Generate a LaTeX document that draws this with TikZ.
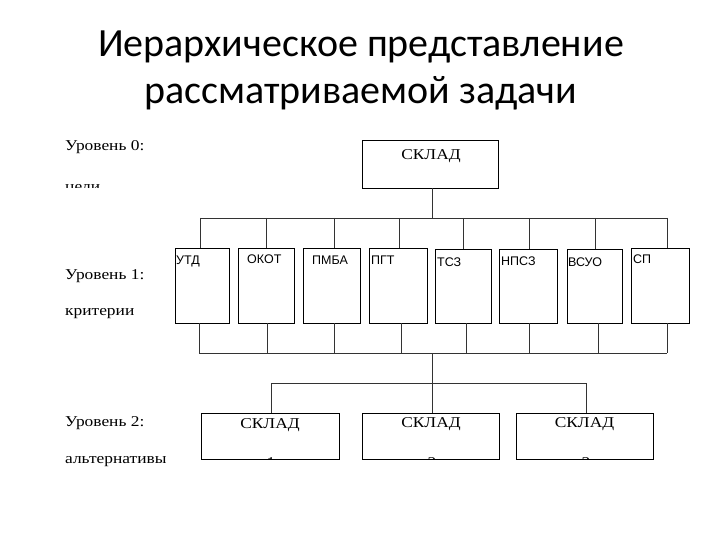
\documentclass[tikz,border=0pt]{standalone}
\usepackage{fontspec}
\setmainfont{Liberation Serif}
\newfontfamily\widserif[FakeStretch=1.16]{Liberation Serif}
\newfontfamily\titlefont{Carlito}
\newfontfamily\sansf{Liberation Sans}
\begin{document}
\begin{tikzpicture}[x=1pt,y=-1pt,
  box/.style={draw=black,line width=0.9pt,inner sep=0pt,fill=none},
  conn/.style={draw=black!80,line width=0.9pt},
  lvl/.style={anchor=base west,inner sep=0pt,font=\widserif\fontsize{15}{15}\selectfont},
  crit/.style={anchor=base west,inner sep=0pt,font=\sansf\fontsize{12.5}{12.5}\selectfont},
  sk/.style={anchor=base,inner sep=0pt,font=\widserif\fontsize{15}{15}\selectfont},
  ttl/.style={anchor=base,inner sep=0pt,font=\titlefont\fontsize{40}{40}\selectfont}]
\useasboundingbox (0,0) rectangle (720,540);
\fill[white] (0,0) rectangle (720,540);
% title
\node[ttl] (t1) at (361,57) {Иерархическое представление};
\node[ttl] (t2) at (361,104) {рассматриваемой задачи};
% level labels
\node[lvl] (l0) at (65,151) {Уровень 0:};
\begin{scope}
\clip (40,170) rectangle (200,188);
\node[lvl] (l0b) at (65,192) {цели};
\end{scope}
\node[lvl] (l1) at (65,279) {Уровень 1:};
\node[lvl] (l1b) at (65,315) {критерии};
\node[lvl] (l2) at (65,426) {Уровень 2:};
\node[lvl] (l2b) at (65,463) {альтернативы};
% top box
\node[box,minimum width=136pt,minimum height=48pt] (top) at (430,164) {};
\node[sk] at (431,160) {СКЛАД};
% criteria boxes
\node[box,minimum width=54pt,minimum height=75pt] (c1) at (202,285.5) {};
\node[box,minimum width=56pt,minimum height=75pt] (c2) at (266,285.5) {};
\node[box,minimum width=57pt,minimum height=75pt] (c3) at (331.5,285.5) {};
\node[box,minimum width=58pt,minimum height=75pt] (c4) at (398,285.5) {};
\node[box,minimum width=56pt,minimum height=74pt] (c5) at (463,286) {};
\node[box,minimum width=58pt,minimum height=74pt] (c6) at (528,286) {};
\node[box,minimum width=55pt,minimum height=74pt] (c7) at (594.5,286) {};
\node[box,minimum width=58pt,minimum height=75pt] (c8) at (660,285.5) {};
\node[crit] at (176,264) {УТД};
\node[crit] at (247,263) {ОКОТ};
\node[crit] at (312,264) {ПМБА};
\node[crit] at (371,264) {ПГТ};
\node[crit] at (437,266) {ТСЗ};
\node[crit] at (501,265) {НПСЗ};
\node[crit] at (568,266) {ВСУО};
\node[crit] at (633,263) {СП};
% alternative boxes
\node[box,minimum width=138pt,minimum height=46pt] (a1) at (270,436) {};
\node[box,minimum width=137pt,minimum height=46pt] (a2) at (430.5,436) {};
\node[box,minimum width=137pt,minimum height=46pt] (a3) at (584.5,436) {};
\node[sk] at (270,428) {СКЛАД};
\node[sk] at (431,427) {СКЛАД};
\node[sk] at (584.5,427) {СКЛАД};
\begin{scope}
\clip (190,440) rectangle (670,458.5);
\node[sk] (n1) at (271,467) {1};
\node[sk] (n2) at (432,467) {2};
\node[sk] (n3) at (586,467) {3};
\end{scope}
% buses
\coordinate (b1) at (432,218);
\coordinate (b2) at (432,353);
\coordinate (b3) at (432,383);
\draw[conn] (top.south -| b1) -- (b1);
\draw[conn] (200,218) -- (667,218);
\foreach \n/\x in {c1/200,c2/266,c3/334,c4/399,c5/463,c6/529,c7/595,c8/667}
  \draw[conn] (\x,218) -- (\n.north -| {(\x,0)});
\foreach \n/\x in {c1/199,c2/267,c3/334,c4/401,c5/466,c6/529,c7/598,c8/667}
  \draw[conn] (\n.south -| {(\x,0)}) -- (\x,353);
\draw[conn] (199,353) -- (667,353);
\draw[conn] (b2) -- (b3);
\draw[conn] (271,383) -- (586,383);
\draw[conn] (271,383) -- (a1.north -| {(271,0)});
\draw[conn] (b3) -- (a2.north -| b3);
\draw[conn] (586,383) -- (a3.north -| {(586,0)});
\end{tikzpicture}
\end{document}
